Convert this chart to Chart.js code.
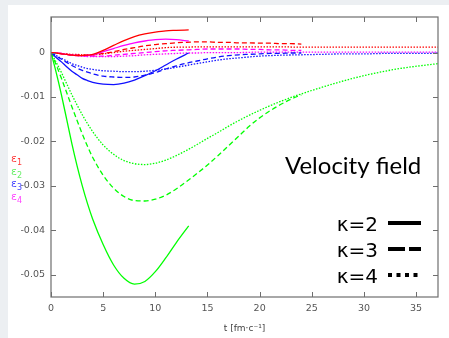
<!DOCTYPE html>
<html>
<head>
<meta charset="utf-8">
<script src="https://cdn.jsdelivr.net/npm/chart.js@4/dist/chart.umd.min.js"></script>
<style>
  html, body { margin: 0; padding: 0; background: #fff; }
  #wrap { width: 449px; height: 338px; }
</style>
</head>
<body>
<div id="wrap"><canvas id="chart"></canvas></div>
<script>
// time grids for each kappa
const T_K2 = [0,0.5,1,1.5,2,2.5,3,3.5,4,5,6,7,8,9,10,11,12,13.2];
const T_K3 = [0,0.5,1,1.5,2,2.5,3,3.5,4,5,6,7,8,9,10,11,12,13,14,15,16,17,18,19,20,21,22,23,24];
const T_K4 = [0,0.5,1,1.5,2,2.5,3,3.5,4,5,6,7,8,9,10,11,12,13,14,15,16,17,18,20,22,24,26,28,30,32,34,36,37.1];

// kappa = 2
const E1_K2 = [0,-0.0001,-0.0003,-0.0004,-0.0006,-0.0007,-0.0007,-0.0006,-0.0004,0.0005,0.0016,0.0027,0.0036,0.0042,0.0046,0.0049,0.0050,0.0051];
const E2_K2 = [0,-0.0045,-0.0095,-0.0150,-0.0205,-0.0255,-0.0300,-0.0340,-0.0375,-0.0432,-0.0478,-0.0508,-0.0521,-0.0515,-0.0493,-0.0462,-0.0428,-0.0390];
const E3_K2 = [0,-0.0011,-0.0021,-0.0032,-0.0042,-0.0050,-0.0058,-0.0063,-0.0067,-0.0071,-0.0072,-0.0069,-0.0062,-0.0052,-0.0041,-0.0028,-0.0015,-0.0001];
const E4_K2 = [0,-0.0001,-0.0003,-0.0004,-0.0006,-0.0007,-0.0007,-0.0006,-0.0005,0.0002,0.0009,0.0016,0.0022,0.0026,0.0029,0.0030,0.0029,0.0026];

// kappa = 3
const E1_K3 = [0,-0.0001,-0.0003,-0.0004,-0.0005,-0.0006,-0.0006,-0.0006,-0.0005,-0.0002,0.0002,0.0007,0.0011,0.0015,0.0018,0.0020,0.0022,0.0023,0.0024,0.0024,0.0023,0.0023,0.0022,0.0022,0.0021,0.0021,0.0020,0.0020,0.0019];
const E2_K3 = [0,-0.0028,-0.0058,-0.0090,-0.0122,-0.0153,-0.0183,-0.0211,-0.0236,-0.0276,-0.0305,-0.0324,-0.0333,-0.0334,-0.0330,-0.0321,-0.0307,-0.0290,-0.0272,-0.0253,-0.0232,-0.0210,-0.0188,-0.0166,-0.0147,-0.0131,-0.0117,-0.0105,-0.0095];
const E3_K3 = [0,-0.0008,-0.0015,-0.0022,-0.0029,-0.0035,-0.0040,-0.0044,-0.0048,-0.0053,-0.0055,-0.0056,-0.0055,-0.0051,-0.0045,-0.0037,-0.0030,-0.0024,-0.0019,-0.0014,-0.0010,-0.0007,-0.0005,-0.0004,-0.0003,-0.0002,-0.0002,-0.0001,-0.0001];
const E4_K3 = [0,-0.0001,-0.0002,-0.0004,-0.0005,-0.0006,-0.0007,-0.0008,-0.0008,-0.0008,-0.0006,-0.0004,-0.0002,0.0000,0.0002,0.0004,0.0005,0.0006,0.0007,0.0008,0.0008,0.0008,0.0008,0.0007,0.0007,0.0006,0.0006,0.0005,0.0005];

// kappa = 4
const E1_K4 = [0,-0.0001,-0.0002,-0.0003,-0.0004,-0.0004,-0.0005,-0.0005,-0.0005,-0.0003,0.0000,0.0003,0.0005,0.0007,0.0009,0.0011,0.0012,0.0012,0.0013,0.0013,0.0013,0.0013,0.0013,0.0013,0.0013,0.0012,0.0012,0.0012,0.0012,0.0012,0.0012,0.0012,0.0012];
const E2_K4 = [0,-0.0022,-0.0045,-0.0070,-0.0095,-0.0118,-0.0140,-0.0160,-0.0178,-0.0208,-0.0229,-0.0243,-0.0250,-0.0252,-0.0249,-0.0242,-0.0232,-0.0220,-0.0207,-0.0193,-0.0180,-0.0166,-0.0153,-0.0130,-0.0110,-0.0093,-0.0078,-0.0064,-0.0052,-0.0042,-0.0034,-0.0028,-0.0025];
const E3_K4 = [0,-0.0007,-0.0013,-0.0019,-0.0025,-0.0029,-0.0033,-0.0036,-0.0038,-0.0041,-0.0042,-0.0043,-0.0043,-0.0042,-0.0040,-0.0037,-0.0033,-0.0029,-0.0025,-0.0021,-0.0017,-0.0014,-0.0012,-0.0008,-0.0006,-0.0005,-0.0004,-0.0003,-0.0003,-0.0002,-0.0002,-0.0002,-0.0001];
const E4_K4 = [0,-0.0001,-0.0002,-0.0004,-0.0006,-0.0007,-0.0008,-0.0009,-0.0009,-0.0009,-0.0009,-0.0008,-0.0007,-0.0005,-0.0004,-0.0003,-0.0002,-0.0001,-0.0001,0,0,0,0,0.0001,0.0001,0.0001,0.0001,0.0001,0.0001,0.0001,0.0001,0.0001,0.0001];

const X_TICKS = [0, 5, 10, 15, 20, 25, 30, 35];
const Y_TICKS = [-0.05, -0.04, -0.03, -0.02, -0.01, 0];
const EPS_LABELS = ['1', '2', '3', '4'];
const KAPPA_LABELS = ['κ=2', 'κ=3', 'κ=4'];
const TITLE_TEXT = 'Velocity field';

const RED = '#ff0000', GREEN = '#00ff00', BLUE = '#1010ff', MAGENTA = '#ff00ff';
const EPS_COLORS = ['#ff3a3a', '#66ee66', '#4444ff', '#ff44ff'];
const DASHED = [5, 3];
const DOTTED = [1.5, 1.5];

const pts = (t, e) => t.map((x, i) => ({ x: x, y: e[i] }));

const line = (t, e, color, dash) => ({
    data: pts(t, e),
    showLine: true,
    borderColor: color,
    backgroundColor: color,
    borderWidth: 1.3,
    borderDash: dash,
    pointRadius: 0,
    cubicInterpolationMode: 'monotone',
});

const backdrop = {
    id: 'backdrop',
    beforeDraw(chart) {
        const ctx = chart.ctx;
        ctx.save();
        ctx.fillStyle = '#eceff2';
        ctx.fillRect(0, 0, 8, chart.height);
        ctx.fillRect(0, 0, chart.width, 5);
        ctx.restore();
    }
};

const decor = {
    id: 'decor',
    afterDraw(chart) {
        const ctx = chart.ctx;
        const a = chart.chartArea;
        const xs = chart.scales.x, ys = chart.scales.y;
        ctx.save();
        // frame + inward ticks
        ctx.strokeStyle = '#6e6e6e';
        ctx.lineWidth = 1.2;
        ctx.strokeRect(a.left, a.top, a.right - a.left, a.bottom - a.top);
        ctx.lineWidth = 1;
        ctx.beginPath();
        X_TICKS.forEach(v => {
            const px = Math.round(xs.getPixelForValue(v)) + 0.5;
            ctx.moveTo(px, a.bottom); ctx.lineTo(px, a.bottom - 5);
            ctx.moveTo(px, a.top); ctx.lineTo(px, a.top + 5);
        });
        Y_TICKS.forEach(v => {
            const py = Math.round(ys.getPixelForValue(v)) + 0.5;
            ctx.moveTo(a.left, py); ctx.lineTo(a.left + 5, py);
            ctx.moveTo(a.right, py); ctx.lineTo(a.right - 5, py);
        });
        ctx.stroke();

        // epsilon labels on the left
        ctx.textBaseline = 'alphabetic';
        ctx.textAlign = 'left';
        EPS_LABELS.forEach((s, i) => {
            const y = 162 + i * 12.7;
            ctx.fillStyle = EPS_COLORS[i];
            ctx.font = '11px "DejaVu Sans"';
            ctx.fillText('ε', 11, y);
            ctx.font = '8px "DejaVu Sans"';
            ctx.fillText(s, 17, y + 3);
        });

        // title text
        ctx.fillStyle = '#000';
        ctx.font = '24px Lato';
        ctx.fillText(TITLE_TEXT, 285, 174);

        // kappa legend
        ctx.font = '20px "DejaVu Sans"';
        ctx.textAlign = 'right';
        const dashes = [[], [17, 4], [4, 4.5]];
        KAPPA_LABELS.forEach((s, i) => {
            const y = 223 + i * 26;
            ctx.fillStyle = '#000';
            ctx.fillText(s, 378, y + 8);
            ctx.strokeStyle = '#000';
            ctx.lineWidth = 4;
            ctx.setLineDash(dashes[i]);
            ctx.beginPath();
            ctx.moveTo(388, y); ctx.lineTo(421, y);
            ctx.stroke();
        });
        ctx.setLineDash([]);
        ctx.restore();
    }
};

new Chart(document.getElementById('chart'), {
    type: 'scatter',
    data: {
        datasets: [
            line(T_K2, E1_K2, RED, []),
            line(T_K2, E2_K2, GREEN, []),
            line(T_K2, E3_K2, BLUE, []),
            line(T_K2, E4_K2, MAGENTA, []),
            line(T_K3, E1_K3, RED, DASHED),
            line(T_K3, E2_K3, GREEN, DASHED),
            line(T_K3, E3_K3, BLUE, DASHED),
            line(T_K3, E4_K3, MAGENTA, DASHED),
            line(T_K4, E1_K4, RED, DOTTED),
            line(T_K4, E2_K4, GREEN, DOTTED),
            line(T_K4, E3_K4, BLUE, DOTTED),
            line(T_K4, E4_K4, MAGENTA, DOTTED),
        ]
    },
    options: {
        responsive: true,
        maintainAspectRatio: false,
        animation: false,
        layout: { padding: { left: 0, right: 11, top: 17, bottom: 4 } },
        plugins: {
            legend: { display: false },
            tooltip: { enabled: false },
        },
        scales: {
            x: {
                type: 'linear',
                min: 0,
                max: 37.1,
                afterBuildTicks: s => { s.ticks = X_TICKS.map(v => ({ value: v })); },
                afterFit: s => { s.height = 37; },
                grid: { display: false, drawTicks: false },
                border: { display: false },
                ticks: {
                    padding: 6,
                    color: '#555',
                    font: { family: 'DejaVu Sans', size: 9.5 },
                    callback: v => String(v),
                },
                title: {
                    display: true,
                    text: 't [fm·c⁻¹]',
                    color: '#444',
                    font: { family: 'DejaVu Sans', size: 9 },
                    padding: 0,
                },
            },
            y: {
                type: 'linear',
                min: -0.055,
                max: 0.008,
                afterBuildTicks: s => { s.ticks = Y_TICKS.map(v => ({ value: v })); },
                afterFit: s => { s.width = 51; },
                grid: { display: false, drawTicks: false },
                border: { display: false },
                ticks: {
                    padding: 6,
                    color: '#555',
                    font: { family: 'DejaVu Sans', size: 9.5 },
                    callback: v => (v === 0 ? '0' : v.toFixed(2)),
                },
            },
        },
    },
    plugins: [backdrop, decor],
});
</script>
</body>
</html>
